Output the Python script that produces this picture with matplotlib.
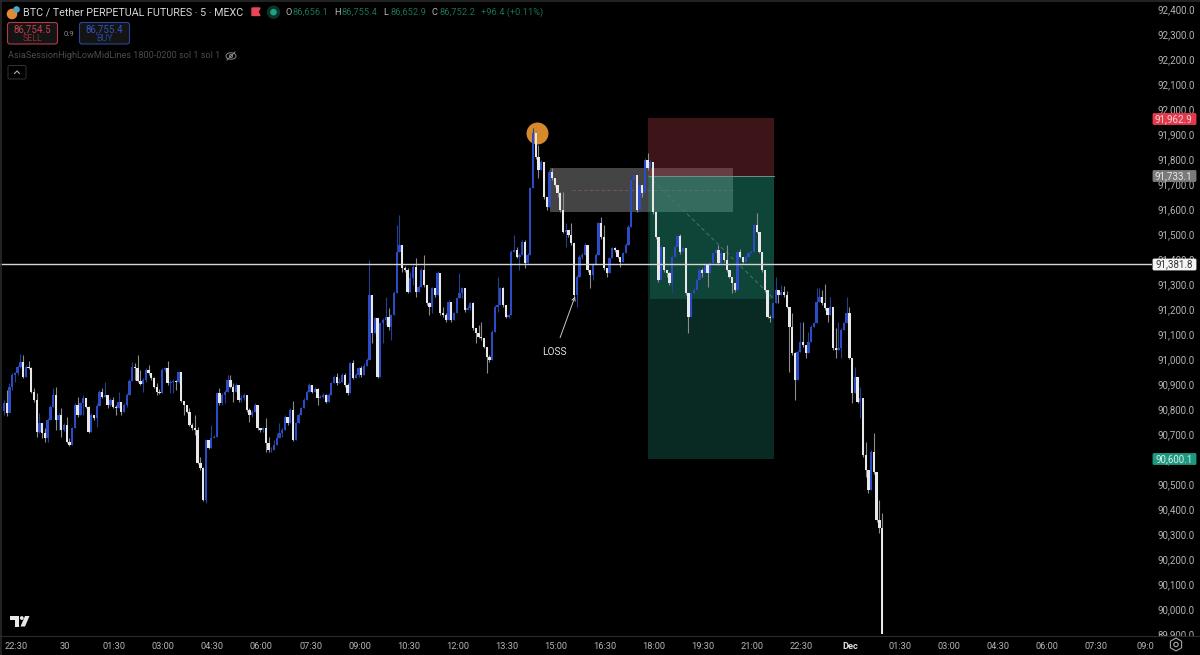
import numpy as np
import matplotlib
matplotlib.use('Agg')
import matplotlib.pyplot as plt
from matplotlib.patches import Rectangle, Circle, Ellipse, Polygon, FancyBboxPatch
from matplotlib.transforms import Bbox

plt.rcParams['font.family'] = ['Roboto', 'DejaVu Sans']

# 5 minute candles, open is the previous close
closes = [90823, 90783, 90889, 90936, 90943, 90969, 90989, 90929, 90969, 90963, 90869, 90836, 90709, 90743, 90703,
          90683, 90756, 90809, 90856, 90756, 90776, 90716, 90736, 90669, 90656, 90723, 90816, 90776, 90823, 90843,
          90809, 90709, 90776, 90763, 90813, 90869, 90849, 90856, 90816, 90836, 90809, 90803, 90829, 90789, 90816,
          90856, 90913, 90967, 90963, 90913, 90900, 90916, 90956, 90943, 90923, 90889, 90869, 90863, 90956, 90963,
          90903, 90909, 90913, 90907, 90947, 90833, 90816, 90789, 90736, 90723, 90716, 90583, 90563, 90436, 90676,
          90643, 90683, 90689, 90863, 90823, 90856, 90869, 90916, 90889, 90869, 90896, 90836, 90843, 90856, 90796,
          90776, 90789, 90816, 90723, 90716, 90723, 90663, 90636, 90636, 90656, 90683, 90703, 90716, 90769, 90743,
          90796, 90676, 90743, 90776, 90803, 90836, 90869, 90896, 90869, 90879, 90843, 90847, 90856, 90829, 90856,
          90903, 90929, 90903, 90909, 90936, 90896, 90863, 90983, 90923, 90936, 90963, 90936, 90973, 90996, 91256,
          91103, 91163, 90929, 91143, 91156, 91169, 91129, 91176, 91265, 91429, 91456, 91363, 91356, 91269, 91323,
          91369, 91269, 91289, 91356, 91296, 91223, 91209, 91283, 91256, 91345, 91183, 91176, 91156, 91229, 91156,
          91183, 91243, 91263, 91283, 91196, 91203, 91223, 91123, 91103, 91089, 91083, 91049, 91009, 90996, 91109,
          91209, 91216, 91283, 91216, 91169, 91176, 91429, 91436, 91409, 91416, 91469, 91383, 91416, 91683, 91903,
          91809, 91756, 91789, 91649, 91609, 91749, 91723, 91696, 91663, 91596, 91509, 91516, 91496, 91463, 91256,
          91329, 91409, 91416, 91456, 91356, 91336, 91376, 91416, 91543, 91489, 91363, 91343, 91403, 91443, 91436,
          91409, 91389, 91423, 91456, 91529, 91716, 91736, 91596, 91696, 91663, 91796, 91763, 91789, 91589, 91489,
          91316, 91449, 91356, 91343, 91303, 91409, 91449, 91492, 91429, 91443, 91263, 91170, 91263, 91276, 91316,
          91356, 91343, 91376, 91343, 91383, 91423, 91436, 91383, 91423, 91396, 91356, 91329, 91303, 91276, 91429,
          91409, 91389, 91409, 91423, 91429, 91536, 91509, 91429, 91356, 91276, 91170, 91163, 91223, 91276, 91256,
          91269, 91256, 91209, 91129, 91023, 90916, 91029, 91069, 91056, 91023, 91069, 91129, 91143, 91229, 91249,
          91223, 91203, 91176, 91209, 91043, 91036, 91043, 91116, 91143, 91183, 91003, 90863, 90929, 90829, 90843,
          90616, 90556, 90476, 90629, 90549, 90356, 90323, 89896]
highs = [90836, 90876, 90903, 90943, 90949, 90976, 91020, 91016, 90976, 90993, 90969, 90883, 90865, 90783, 90743,
         90723, 90763, 90816, 90883, 90889, 90783, 90803, 90743, 90767, 90683, 90729, 90823, 90847, 90829, 90856,
         90843, 90813, 90783, 90776, 90823, 90876, 90883, 90909, 90856, 90843, 90847, 90816, 90869, 90829, 90823,
         90863, 90919, 90989, 90983, 91016, 90956, 90923, 90963, 90976, 90943, 90927, 90905, 90879, 90963, 90969,
         90993, 90916, 90919, 90916, 90953, 90947, 90833, 90816, 90803, 90743, 90776, 90727, 90609, 90569, 90679,
         90676, 90736, 90696, 90869, 90883, 90863, 90876, 90936, 90936, 90903, 90903, 90876, 90856, 90863, 90856,
         90803, 90796, 90823, 90809, 90723, 90729, 90763, 90689, 90649, 90676, 90703, 90743, 90723, 90776, 90769,
         90803, 90833, 90749, 90783, 90809, 90843, 90876, 90903, 90896, 90889, 90883, 90856, 90863, 90860, 90863,
         90909, 90936, 90943, 90923, 90943, 90943, 90903, 90989, 90996, 90943, 90969, 90973, 90983, 91003, 91396,
         91256, 91168, 91136, 91149, 91163, 91249, 91203, 91181, 91271, 91536, 91576, 91456, 91373, 91363, 91349,
         91375, 91403, 91296, 91363, 91416, 91296, 91229, 91289, 91283, 91352, 91345, 91209, 91183, 91235, 91229,
         91190, 91249, 91343, 91289, 91283, 91216, 91229, 91229, 91123, 91136, 91149, 91083, 91049, 91016, 91116,
         91216, 91329, 91289, 91290, 91216, 91181, 91436, 91496, 91449, 91425, 91476, 91476, 91423, 91690, 91923,
         91916, 91856, 91796, 91789, 91649, 91756, 91763, 91723, 91696, 91670, 91669, 91543, 91516, 91543, 91463,
         91336, 91416, 91423, 91463, 91456, 91356, 91383, 91423, 91550, 91567, 91536, 91363, 91409, 91449, 91449,
         91436, 91409, 91429, 91463, 91536, 91723, 91743, 91736, 91703, 91696, 91803, 91823, 91796, 91789, 91589,
         91489, 91456, 91449, 91356, 91350, 91416, 91456, 91500, 91500, 91449, 91443, 91263, 91270, 91283, 91323,
         91363, 91363, 91383, 91376, 91389, 91429, 91443, 91456, 91429, 91423, 91456, 91356, 91329, 91303, 91436,
         91439, 91409, 91416, 91429, 91436, 91543, 91583, 91509, 91429, 91356, 91276, 91176, 91230, 91329, 91276,
         91296, 91292, 91273, 91209, 91183, 91030, 91036, 91149, 91149, 91056, 91109, 91136, 91150, 91283, 91283,
         91276, 91300, 91203, 91249, 91209, 91123, 91149, 91123, 91150, 91249, 91209, 91003, 90969, 90929, 90889,
         90843, 90669, 90556, 90636, 90703, 90549, 90436, 90383]
lows = [90776, 90772, 90816, 90876, 90909, 90936, 90963, 90923, 90929, 90959, 90863, 90829, 90687, 90705, 90683,
        90669, 90669, 90756, 90809, 90716, 90716, 90689, 90713, 90665, 90652, 90656, 90723, 90769, 90776, 90776,
        90803, 90705, 90709, 90756, 90729, 90813, 90843, 90847, 90803, 90812, 90803, 90776, 90803, 90776, 90789,
        90809, 90856, 90913, 90916, 90909, 90896, 90869, 90909, 90936, 90916, 90883, 90856, 90859, 90865, 90949,
        90896, 90863, 90863, 90876, 90903, 90829, 90776, 90783, 90732, 90716, 90696, 90580, 90556, 90433, 90423,
        90639, 90643, 90683, 90689, 90816, 90816, 90823, 90869, 90883, 90829, 90869, 90829, 90829, 90836, 90789,
        90749, 90769, 90789, 90716, 90709, 90709, 90629, 90629, 90627, 90636, 90656, 90683, 90689, 90716, 90736,
        90743, 90673, 90676, 90743, 90776, 90803, 90836, 90869, 90863, 90869, 90816, 90843, 90843, 90823, 90829,
        90856, 90903, 90896, 90903, 90909, 90889, 90856, 90863, 90919, 90923, 90929, 90929, 90936, 90973, 90996,
        91063, 91103, 90923, 90929, 91063, 91136, 91116, 91076, 91176, 91265, 91429, 91349, 91350, 91265, 91269,
        91296, 91249, 91269, 91289, 91290, 91216, 91176, 91183, 91250, 91256, 91176, 91170, 91150, 91156, 91150,
        91156, 91183, 91243, 91243, 91190, 91196, 91196, 91116, 91063, 91083, 91076, 91043, 90943, 90989, 90996,
        91109, 91190, 91216, 91210, 91163, 91165, 91176, 91429, 91403, 91356, 91416, 91363, 91383, 91416, 91683,
        91800, 91723, 91756, 91640, 91596, 91609, 91716, 91690, 91650, 91590, 91503, 91449, 91490, 91456, 91250,
        91210, 91329, 91400, 91416, 91350, 91283, 91316, 91376, 91416, 91480, 91356, 91330, 91343, 91403, 91430,
        91403, 91369, 91389, 91423, 91456, 91529, 91700, 91590, 91596, 91650, 91656, 91756, 91763, 91580, 91480,
        91310, 91316, 91350, 91330, 91296, 91263, 91409, 91449, 91420, 91429, 91256, 91103, 91170, 91263, 91276,
        91316, 91330, 91343, 91289, 91343, 91383, 91423, 91376, 91383, 91390, 91350, 91323, 91263, 91270, 91276,
        91403, 91383, 91389, 91409, 91423, 91429, 91503, 91423, 91350, 91270, 91163, 91150, 91163, 91223, 91223,
        91256, 91250, 91203, 90949, 91016, 90836, 90916, 91029, 91050, 91003, 91023, 91069, 91129, 91143, 91229,
        91216, 91196, 91149, 91176, 91036, 91003, 91036, 91003, 91116, 91143, 91000, 90823, 90863, 90823, 90763,
        90610, 90529, 90463, 90476, 90540, 90350, 90303, 89892]

price_ticks = np.arange(89900, 92500, 100)
time_labels = ['22:30', '30', '01:30', '03:00', '04:30', '06:00', '07:30', '09:00', '10:30', '12:00', '13:30',
               '15:00', '16:30', '18:00', '19:30', '21:00', '22:30', 'Dec', '01:30', '03:00', '04:30', '06:00',
               '07:30', '09:0']

stop_price = 91962.9
entry_price = 91733.1
target_price = 90600.1
last_price = 91381.8
trade_floor = 91240
zone_top, zone_mid, zone_bottom = 91764, 91676, 91588
peak_bar, peak_price = 195.5, 91904
trade_start, trade_end = 236.2, 282.4
zone_start, zone_end = 200.2, 267.3

BLUE = '#2b4cc4'
WHITE = '#e8e8e8'
GREEN = '#249d84'
RED = '#9b343a'

fig = plt.figure(figsize=(12, 6.55), dpi=100, facecolor='black')
ax = fig.add_axes([0, 21 / 655, 1152 / 1200, 634 / 655], facecolor='black')
ax.set_xlim(-1.467, 420.97)
ax.set_ylim(89900, 92436)
for sp in ax.spines.values():
    sp.set_visible(False)

bars = np.arange(len(closes))
closes_a = np.array(closes, float)
opens_a = np.r_[closes_a[0] - 30, closes_a[:-1]]
up = closes_a >= opens_a
body_low = np.minimum(opens_a, closes_a)
body_h = np.abs(closes_a - opens_a)

# gray zone first, the trade boxes tint it from above, all under the candles
ax.add_patch(Rectangle((zone_start, zone_bottom), zone_end - zone_start, zone_top - zone_bottom,
                       color='#444444', lw=0, zorder=1))
ax.plot([zone_start + 8, zone_end], [zone_mid, zone_mid], color='#7a557a', lw=0.6, ls=(0, (4, 3)), zorder=1.1)
ax.add_patch(Rectangle((trade_start, entry_price), trade_end - trade_start, stop_price - entry_price,
                       color=RED, alpha=0.4, lw=0, zorder=1.2))
ax.add_patch(Rectangle((trade_start, target_price), trade_end - trade_start, entry_price - target_price,
                       color=GREEN, alpha=0.27, lw=0, zorder=1.2))
ax.add_patch(Rectangle((trade_start + 0.7, trade_floor), trade_end - trade_start - 0.7, entry_price - trade_floor,
                       color=GREEN, alpha=0.23, lw=0, zorder=1.3))
ax.plot([trade_start, trade_end], [entry_price, entry_price], color='#6f8f88', lw=0.7, zorder=1.4)
ax.plot([trade_start, trade_end], [entry_price, trade_floor], color='#3f7a6a', lw=0.7, ls=(0, (4, 3)), zorder=1.4)
ax.scatter([peak_bar], [peak_price], s=250, color='#d5892a', lw=0, zorder=1.5)

# candles
ax.vlines(bars[up], np.array(lows)[up], np.array(highs)[up], color='#26408f', lw=0.8, zorder=2)
ax.vlines(bars[~up], np.array(lows)[~up], np.array(highs)[~up], color='#8c8c8c', lw=0.8, zorder=2)
ax.bar(bars[up], body_h[up], bottom=body_low[up], width=0.85, color=BLUE, lw=0, zorder=3)
ax.bar(bars[~up], body_h[~up], bottom=body_low[~up], width=0.85, color=WHITE, lw=0, zorder=3)

ax.axhline(last_price, color='#d4d4d4', lw=1.0, zorder=4)

ax.annotate('LOSS', xy=(209.4, 91250), xytext=(202, 91028), color='#e0e0e0', fontsize=7.3, ha='center', va='center',
            arrowprops=dict(arrowstyle='->', color='#c8c8c8', lw=0.7, shrinkA=5, shrinkB=0, mutation_scale=6), zorder=5)

ax.yaxis.tick_right()
ax.set_yticks(price_ticks)
ax.set_yticklabels([f'{p:,.1f}' for p in price_ticks])
ax.set_xticks(np.arange(len(time_labels)) * 18 + 4.4)
ax.set_xticklabels(time_labels)
ax.tick_params(axis='y', length=0, pad=4.3, labelsize=7, labelcolor='#b4b4b4')
ax.tick_params(axis='x', length=0, pad=5.5, labelsize=6.7, labelcolor='#b4b4b4')
for lab in ax.get_xticklabels():
    if lab.get_text() == 'Dec':
        lab.set_fontweight('bold')
        lab.set_color('#e0e0e0')
for lab in ax.get_yticklabels():
    # the lowest price label is cut by the time axis
    lab.set_clip_box(Bbox([[1152, 19], [1200, 655]]))
    lab.set_clip_on(True)

# screen furniture, drawn in pixel coordinates
ui = fig.add_axes([0, 0, 1, 1], facecolor='none')
ui.set_xlim(0, 1200)
ui.set_ylim(655, 0)
ui.axis('off')

ui.plot([0, 1200], [635.7, 635.7], color='#2a2a2a', lw=0.8)
ui.plot([0.5, 0.5], [0, 655], color='#2a2a2a', lw=1.2)
ui.plot([0, 1200], [0.7, 0.7], color='#2a2a2a', lw=1.2)


def price_label(y, text, bg, fg):
    ui.add_patch(FancyBboxPatch((1153, y - 5.5), 43, 11, boxstyle='round,pad=0,rounding_size=1', fc=bg, ec=bg, lw=0.6))
    ui.text(1192.5, y + 0.2, text, color=fg, fontsize=7, ha='right', va='center')


price_label(119, '91,962.9', '#e23a4c', '#f3d6d9')
price_label(176, '91,733.1', '#7a7a7a', '#e8e8e8')
price_label(264.5, '91,381.8', '#f4f4f4', '#333333')
price_label(459, '90,600.1', '#1f9880', '#d5efe9')

# title row
ui.add_patch(Circle((12, 14), 4.6, color='#e08a35'))
ui.add_patch(Circle((16.5, 9.5), 2.6, color='#4aa8c8'))
ui.text(23, 12.5, 'BTC / Tether PERPETUAL FUTURES · 5 · MEXC', color='#d6d6d6', fontsize=7.75, va='center')
ui.add_patch(Polygon([[252, 8], [260, 8], [258, 12], [260, 15.5], [252, 15.5]], color='#ea4554'))
ui.add_patch(Circle((273.5, 12.2), 6, color='#0b332a'))
ui.add_patch(Circle((273.5, 12.2), 2.6, color='#1ea380'))
for x, letter, value in [(285, 'O', '86,656.1'), (334, 'H', '86,755.4'), (383, 'L', '86,652.9'), (432, 'C', '86,752.2')]:
    ui.text(x, 12.5, letter, color='#b8b8b8', fontsize=6.7, va='center')
    ui.text(x + 7.5, 12.5, value, color='#1c6f58', fontsize=6.7, va='center')
ui.text(481, 12.5, '+96.4 (+0.11%)', color='#1c6f58', fontsize=6.7, va='center')

# sell and buy boxes
ui.add_patch(FancyBboxPatch((7.5, 22.5), 50, 21.5, boxstyle='round,pad=0,rounding_size=2.5', fc='#141414', ec='#b33a48', lw=0.8))
ui.text(32.5, 29, '86,754.5', color='#c8404f', fontsize=7, ha='center', va='center')
ui.text(32.5, 38.5, 'SELL', color='#8a2e38', fontsize=6.4, ha='center', va='center')
ui.text(69, 34, '0.9', color='#8a8a8a', fontsize=5.6, ha='center', va='center')
ui.add_patch(FancyBboxPatch((79.5, 22.5), 50, 21.5, boxstyle='round,pad=0,rounding_size=2.5', fc='#141414', ec='#2b4699', lw=0.8))
ui.text(104.5, 29, '86,755.4', color='#3454c0', fontsize=7, ha='center', va='center')
ui.text(104.5, 38.5, 'BUY', color='#2a4596', fontsize=6.4, ha='center', va='center')

ui.text(8, 56, 'AsiaSessionHighLowMidLines 1800-0200 sol 1 sol 1', color='#4c4c4c', fontsize=6.6, va='center')
ui.add_patch(Ellipse((231, 56), 10, 6.5, fc='none', ec='#8a8a8a', lw=0.7))
ui.add_patch(Circle((231, 56), 1.5, fc='none', ec='#8a8a8a', lw=0.7))
ui.plot([227, 235], [60, 52], color='#8a8a8a', lw=0.7)

ui.add_patch(FancyBboxPatch((8, 65.5), 18, 13.5, boxstyle='round,pad=0,rounding_size=1.5', fc='none', ec='#333333', lw=0.7))
ui.plot([14.5, 17, 19.5], [73.5, 71, 73.5], color='#b0b0b0', lw=0.8)

# logo and settings icon
ui.add_patch(Polygon([[9.5, 616], [19, 616], [19, 626.5], [14.5, 626.5], [14.5, 620], [9.5, 620]], color='#e8e8e8', lw=0))
ui.add_patch(Circle((21.8, 618), 1.9, color='#e8e8e8', lw=0))
ui.add_patch(Polygon([[25, 616], [29.5, 616], [25, 626.5], [20.5, 626.5]], color='#e8e8e8', lw=0))
ang = np.radians(np.arange(30, 390, 60))
ui.add_patch(Polygon(np.c_[1176 + 6.5 * np.cos(ang), 644.5 + 6.5 * np.sin(ang)], fc='none', ec='#a8a8a8', lw=0.8))
ui.add_patch(Circle((1176, 644.5), 2.2, fc='none', ec='#a8a8a8', lw=0.8))

fig.savefig('out.png', dpi=100, facecolor='black')
